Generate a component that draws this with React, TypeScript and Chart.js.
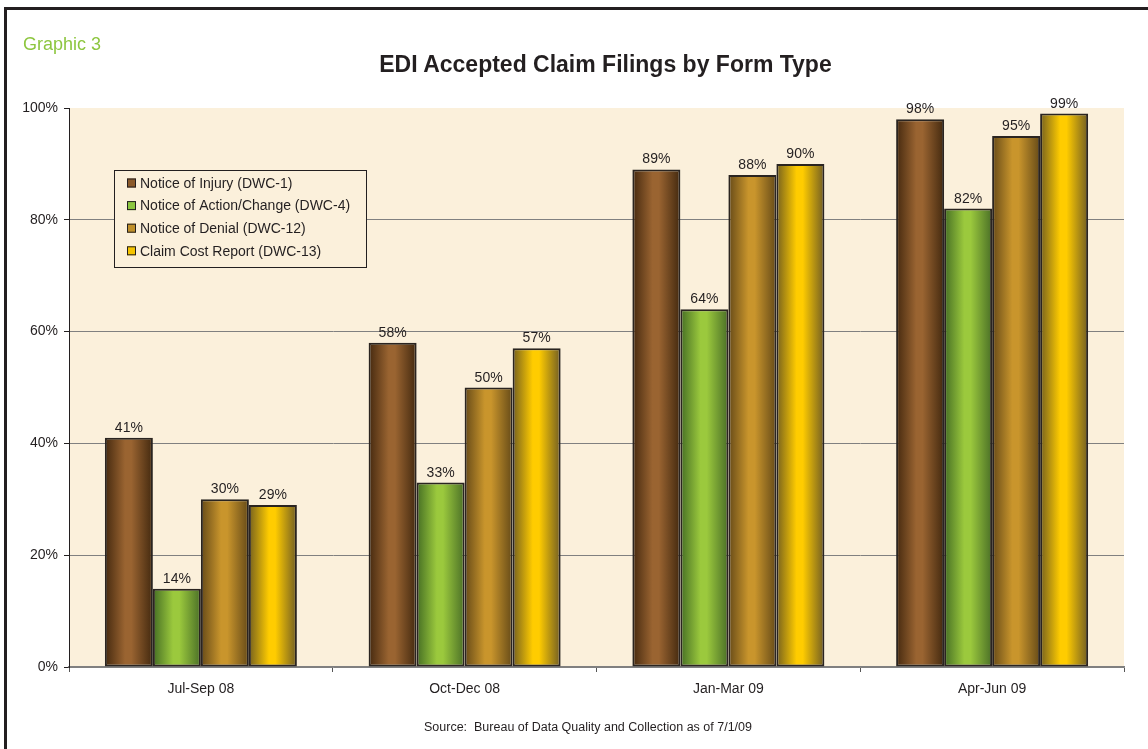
import React, { useEffect, useRef } from "react";
import { Chart, registerables } from "chart.js";

Chart.register(...registerables);

const categories = ["Jul-Sep 08", "Oct-Dec 08", "Jan-Mar 09", "Apr-Jun 09"];
const seriesLabels = [
  "Notice of Injury (DWC-1)",
  "Notice of Action/Change (DWC-4)",
  "Notice of Denial (DWC-12)",
  "Claim Cost Report (DWC-13)",
];
const injuryValues = [41, 58, 89, 98];
const actionChangeValues = [14, 33, 64, 82];
const denialValues = [30, 50, 88, 95];
const costReportValues = [29, 57, 90, 99];
const yTickStep = 20;

const seriesStops = [
  ["#45290f", "#9a6431", "#43290f"],
  ["#456e24", "#9bc93d", "#4a6f27"],
  ["#664a18", "#c9952c", "#654a18"],
  ["#75601f", "#ffcc00", "#715d24"],
];
const legendSwatch = ["#8b5a2b", "#8cc63f", "#c0902a", "#f5c400"];

const FONT = "'Liberation Sans', Arial, sans-serif";
const CAT_PCT = 0.728;
const PLOT_BG = "#fbf0db";

export default function App() {
  const ref = useRef<HTMLCanvasElement | null>(null);

  useEffect(() => {
    if (!ref.current) return;
    const valueSets = [injuryValues, actionChangeValues, denialValues, costReportValues];

    const gradientFor = (ctx: any) => {
      const stops = seriesStops[ctx.datasetIndex];
      const chart = ctx.chart;
      const xs = chart.scales && chart.scales.x;
      if (!xs || ctx.type !== "data") return stops[1];
      const center = xs.getPixelForValue(ctx.dataIndex);
      const catW = xs.width / categories.length;
      if (!isFinite(center) || !isFinite(catW) || catW <= 0) return stops[1];
      const groupW = catW * CAT_PCT;
      const barW = groupW / valueSets.length;
      const left = center - groupW / 2 + ctx.datasetIndex * barW;
      const g = chart.ctx.createLinearGradient(left, 0, left + barW, 0);
      g.addColorStop(0, stops[0]);
      g.addColorStop(0.42, stops[1]);
      g.addColorStop(0.55, stops[1]);
      g.addColorStop(1, stops[2]);
      return g;
    };

    const bgPlugin = {
      id: "plotBg",
      beforeDraw(chart: any) {
        const { ctx, chartArea } = chart;
        ctx.save();
        ctx.fillStyle = PLOT_BG;
        ctx.fillRect(chartArea.left, chartArea.top, chartArea.right - chartArea.left, chartArea.bottom - chartArea.top);
        ctx.restore();
      },
    };

    const labelPlugin = {
      id: "valueLabels",
      afterDatasetsDraw(chart: any) {
        const { ctx } = chart;
        ctx.save();
        ctx.font = `14px ${FONT}`;
        ctx.fillStyle = "#231f20";
        ctx.textAlign = "center";
        ctx.textBaseline = "alphabetic";
        chart.data.datasets.forEach((ds: any, di: number) => {
          const meta = chart.getDatasetMeta(di);
          meta.data.forEach((el: any, i: number) => {
            ctx.fillText(ds.data[i] + "%", el.x, el.y - 6);
          });
        });
        ctx.restore();
      },
    };

    const legendPlugin = {
      id: "insideLegend",
      afterDraw(chart: any) {
        const { ctx, chartArea } = chart;
        const x = chartArea.left + 45;
        const y = chartArea.top + 62;
        const w = 252;
        const h = 97;
        ctx.save();
        ctx.fillStyle = PLOT_BG;
        ctx.fillRect(x, y, w, h);
        ctx.strokeStyle = "#231f20";
        ctx.lineWidth = 1;
        ctx.strokeRect(x + 0.5, y + 0.5, w, h);
        ctx.font = `14px ${FONT}`;
        ctx.textBaseline = "middle";
        ctx.textAlign = "left";
        chart.data.datasets.forEach((ds: any, i: number) => {
          const cy = y + 13 + i * 22.6;
          ctx.fillStyle = legendSwatch[i];
          ctx.fillRect(x + 13, cy - 4.5, 9, 9);
          ctx.strokeStyle = "#231f20";
          ctx.strokeRect(x + 13.5, cy - 4, 8, 8);
          ctx.fillStyle = "#231f20";
          ctx.fillText(ds.label, x + 26, cy + 1);
        });
        ctx.restore();
      },
    };

    const chart = new Chart(ref.current, {
      type: "bar",
      data: {
        labels: categories,
        datasets: valueSets.map((vals, i) => ({
          label: seriesLabels[i],
          data: vals,
          backgroundColor: gradientFor,
          borderColor: "#2a2420",
          borderWidth: 2,
          borderSkipped: false,
          categoryPercentage: CAT_PCT,
          barPercentage: 1,
        })),
      },
      options: {
        animation: false,
        responsive: false,
        maintainAspectRatio: false,
        layout: { padding: { left: 9, top: 108, right: 24, bottom: 42 } },
        plugins: {
          legend: { display: false },
          title: { display: false },
          tooltip: { enabled: false },
        },
        scales: {
          x: {
            afterFit: (s: any) => {
              s.height = 40;
            },
            grid: {
              offset: true,
              drawOnChartArea: false,
              drawTicks: true,
              tickLength: 5,
              tickColor: "#555",
            },
            border: { display: true, color: "#808080", width: 1.5 },
            ticks: {
              color: "#231f20",
              font: { family: FONT, size: 14 },
              padding: 9,
            },
          },
          y: {
            min: 0,
            max: 100,
            afterFit: (s: any) => {
              s.width = 60;
            },
            ticks: {
              stepSize: yTickStep,
              callback: (v: any) => v + "%",
              color: "#231f20",
              font: { family: FONT, size: 14 },
              padding: 6,
            },
            grid: {
              color: (c: any) => (c.tick && c.tick.value === 100 ? "rgba(0,0,0,0)" : "#808080"),
              lineWidth: 1,
              drawTicks: true,
              tickLength: 5,
              tickColor: "#231f20",
            },
            border: { display: true, color: "#231f20", width: 1 },
          },
        },
      },
      plugins: [bgPlugin, labelPlugin, legendPlugin],
    } as any);

    return () => chart.destroy();
  }, []);

  return (
    <div style={{ position: "fixed", left: 0, top: 0, width: 1148, height: 749, background: "#fff", overflow: "hidden" }}>
      <div
        style={{
          position: "absolute",
          left: 4,
          top: 7,
          width: 1300,
          height: 900,
          borderLeft: "3px solid #231f20",
          borderTop: "3px solid #231f20",
        }}
      />
      <canvas ref={ref} width={1148} height={749} style={{ position: "absolute", left: 0, top: 0 }} />
      <div
        style={{
          position: "absolute",
          left: 23,
          top: 34,
          fontFamily: FONT,
          fontSize: 18,
          color: "#8dc63f",
          lineHeight: "20px",
        }}
      >
        Graphic 3
      </div>
      <div
        style={{
          position: "absolute",
          left: 0,
          top: 51,
          width: 1211,
          textAlign: "center",
          fontFamily: FONT,
          fontSize: 23,
          fontWeight: "bold",
          color: "#231f20",
          lineHeight: "26px",
        }}
      >
        EDI Accepted Claim Filings by Form Type
      </div>
      <div
        style={{
          position: "absolute",
          left: 0,
          top: 720,
          width: 1176,
          textAlign: "center",
          fontFamily: FONT,
          fontSize: 12.5,
          color: "#231f20",
          lineHeight: "14px",
          whiteSpace: "pre",
        }}
      >
        {"Source:  Bureau of Data Quality and Collection as of 7/1/09"}
      </div>
    </div>
  );
}
